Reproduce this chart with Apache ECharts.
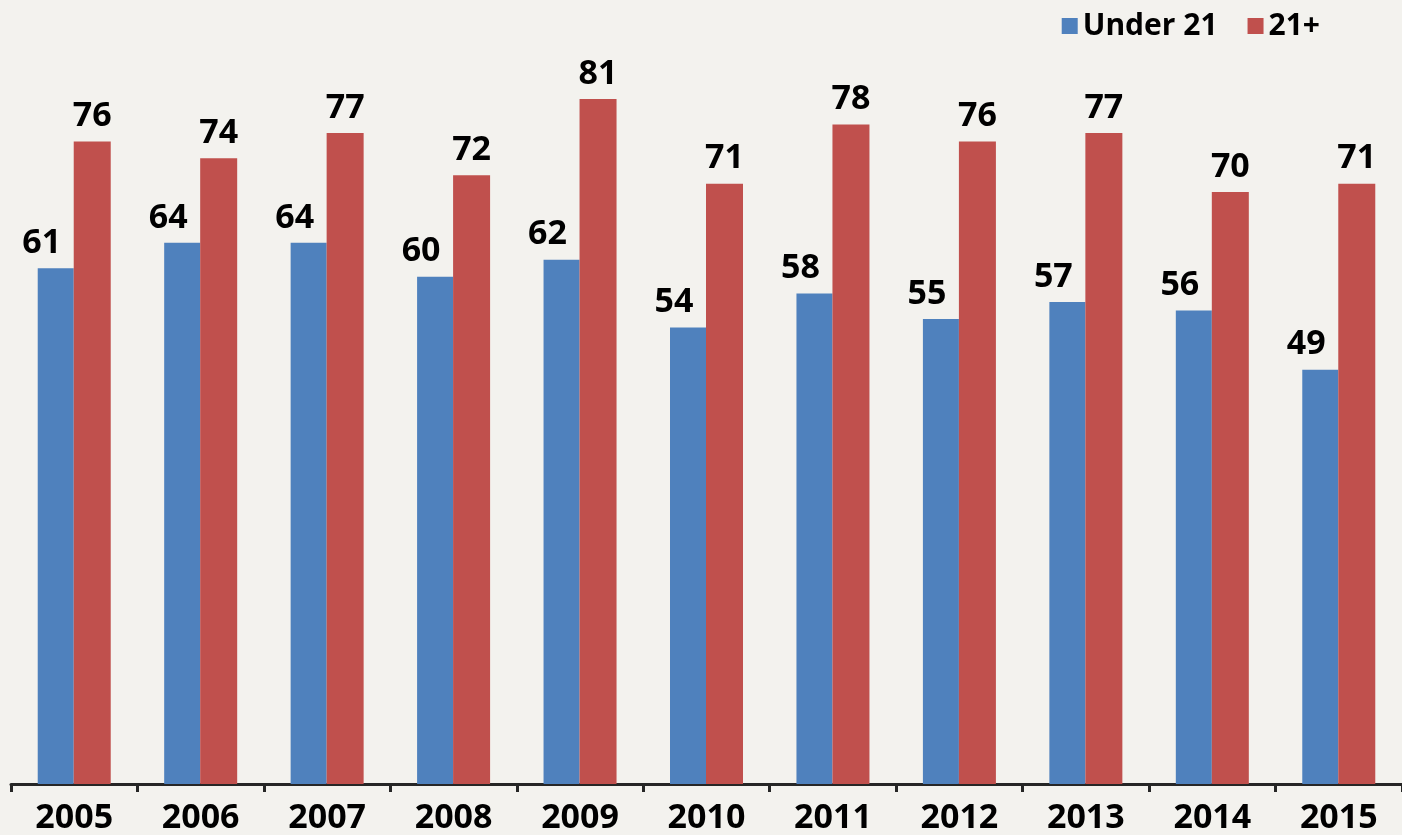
<!DOCTYPE html>
<html>
<head>
<meta charset="utf-8">
<script src="https://cdn.jsdelivr.net/npm/echarts@6/dist/echarts.min.js"></script>
<style>
  html, body { margin: 0; padding: 0; background: #f3f2ee; }
  #chart { width: 1402px; height: 835px; }
</style>
</head>
<body>
<div id="chart"></div>
<script>
const years = ['2005', '2006', '2007', '2008', '2009', '2010', '2011', '2012', '2013', '2014', '2015']
const under21 = [61, 64, 64, 60, 62, 54, 58, 55, 57, 56, 49]
const over21 = [76, 74, 77, 72, 81, 71, 78, 76, 77, 70, 71]

const FONT = '"Open Sans", "Noto Sans", sans-serif'

const chart = echarts.init(document.getElementById('chart'), null, { renderer: 'canvas' })

const barLabel = {
  show: true,
  position: 'top',
  distance: 8,
  color: '#000',
  fontFamily: FONT,
  fontWeight: 'bold',
  fontSize: 34,
}

chart.setOption({
  backgroundColor: '#f3f2ee',
  animation: false,
  legend: {
    right: 77,
    top: 6,
    itemWidth: 16,
    itemHeight: 16,
    itemGap: 30,
    icon: 'rect',
    textStyle: { fontFamily: FONT, fontWeight: 'bold', fontSize: 30, color: '#000' },
    data: ['Under 21', '21+'],
  },
  grid: { left: 11, width: 1398, top: 23, bottom: 50 },
  xAxis: {
    type: 'category',
    data: years,
    axisLine: { lineStyle: { color: '#262626', width: 3 } },
    axisTick: { show: true, length: 8, lineStyle: { color: '#262626', width: 3 } },
    axisLabel: { color: '#000', fontFamily: FONT, fontWeight: 'bold', fontSize: 34, margin: 17 },
  },
  yAxis: {
    type: 'value',
    min: 0,
    max: 90,
    show: false,
    splitLine: { show: false },
  },
  series: [
    {
      name: 'Under 21',
      type: 'bar',
      barWidth: 36,
      barGap: '0%',
      data: under21,
      itemStyle: { color: '#4f81bd' },
      // Excel nudged these left so they don't sit over the red bars
      label: { ...barLabel, offset: [-14, 0] },
    },
    {
      name: '21+',
      type: 'bar',
      barWidth: 37,
      data: over21,
      itemStyle: { color: '#c0504d' },
      label: barLabel,
    },
  ],
})
</script>
</body>
</html>
